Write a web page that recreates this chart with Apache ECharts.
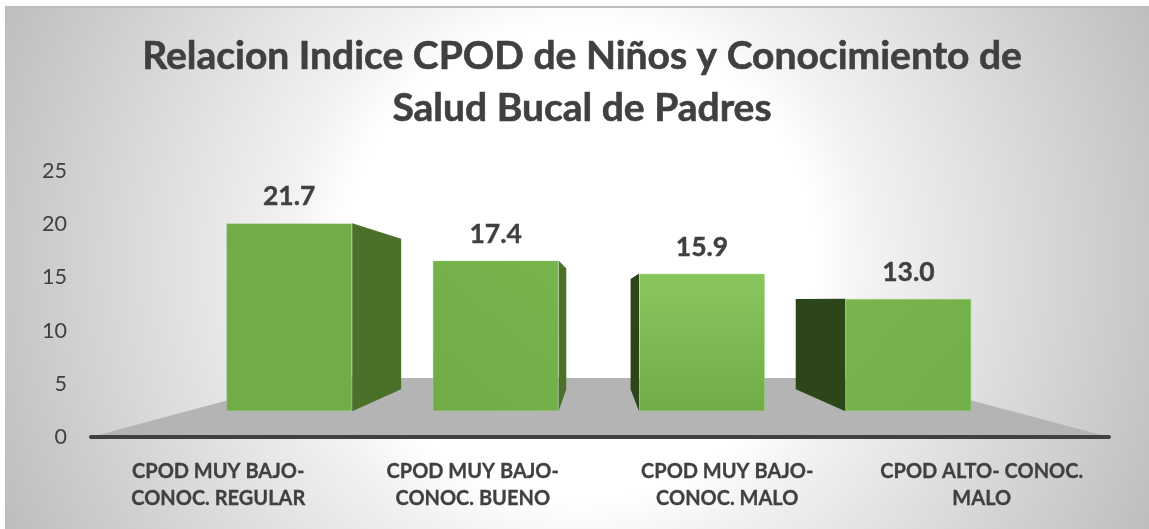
<!DOCTYPE html>
<html><head><meta charset="utf-8">
<style>html,body{margin:0;padding:0;background:#fff}#c{width:1149px;height:529px}</style>
<script src="https://cdn.jsdelivr.net/npm/echarts@6/dist/echarts.min.js"></script>
</head><body><div id="c"></div>
<script>
const titleLines = ['Relacion Indice CPOD de Niños y Conocimiento de', 'Salud Bucal de Padres'];
const categories = ['CPOD MUY BAJO-\nCONOC. REGULAR', 'CPOD MUY BAJO-\nCONOC. BUENO', 'CPOD MUY BAJO-\nCONOC. MALO', 'CPOD ALTO- CONOC.\nMALO'];
const values = [21.7, 17.4, 15.9, 13.0];
const FONT = 'Lato';
const INK = '#404040';

// perspective of the original 3D view: vanishing point, side depth and floor depth
const VP = [597, 301], SIDE_K = 0.2, FLOOR_K = 0.434;
const toward = (p, k) => [p[0] + (VP[0] - p[0]) * k, p[1] + (VP[1] - p[1]) * k];

const faceColors = [
  new echarts.graphic.LinearGradient(0, 0, 1, 1, [{offset: 0, color: '#70ad47'}, {offset: 1, color: '#70ad47'}]),
  new echarts.graphic.LinearGradient(1, 0, 0, 1, [{offset: 0, color: '#77b44c'}, {offset: 1, color: '#70ad47'}]),
  new echarts.graphic.LinearGradient(0, 0, 0, 1, [{offset: 0, color: '#8ac75f'}, {offset: 1, color: '#70ad47'}]),
  new echarts.graphic.LinearGradient(0, 0, 1, 1, [{offset: 0, color: '#78b54e'}, {offset: 1, color: '#72af49'}])
];
const sideColors = ['#4a7029', '#4a7029', '#2c4619', '#2c4619'];

const chart = echarts.init(document.getElementById('c'), null, {renderer: 'canvas'});
chart.setOption({
  animation: false,
  backgroundColor: '#ffffff',
  graphic: [
    {type: 'rect', z: -10, silent: true, x: 5, y: 6, shape: {width: 1144, height: 2}, style: {fill: '#bdbdbd'}},
    {type: 'rect', z: -11, silent: true, x: 5, y: 7,
     shape: {width: 1144, height: 522},
     style: {fill: new echarts.graphic.RadialGradient(0.502, 0.49, 1.226, [
       {offset: 0, color: '#ffffff'}, {offset: 0.37, color: '#ffffff'}, {offset: 0.46, color: '#f2f2f2'}, {offset: 1, color: '#bcbcbc'}])}}
  ],
  title: {
    text: titleLines.join('\n'), left: 577, top: 25, textAlign: 'center',
    textStyle: {fontFamily: FONT, fontSize: 39, fontWeight: 'bold', color: INK, lineHeight: 52, textBorderColor: INK, textBorderWidth: 0.6}
  },
  grid: [
    {left: 91, width: 1018, top: 171, height: 266},
    {left: 186, width: 825.6, top: 194.6, height: 216.75}
  ],
  xAxis: [
    {type: 'category', gridIndex: 0, data: categories, z: 6,
     axisLine: {lineStyle: {color: INK, width: 4, cap: 'round'}},
     axisTick: {show: false},
     axisLabel: {margin: 21, interval: 0, fontFamily: FONT, fontSize: 20, fontWeight: 'bold', color: INK, lineHeight: 27, textBorderColor: INK, textBorderWidth: 0.3}},
    {type: 'category', gridIndex: 1, data: categories, show: false}
  ],
  yAxis: [
    {type: 'value', gridIndex: 0, min: 0, max: 25, interval: 5,
     axisLine: {show: false}, axisTick: {show: false}, splitLine: {show: false},
     axisLabel: {margin: 24, padding: [2, 0, 0, 0], fontFamily: FONT, fontSize: 21.5, color: INK}},
    {type: 'value', gridIndex: 1, min: 0, max: 25, show: false}
  ],
  series: [
    {type: 'custom', xAxisIndex: 0, yAxisIndex: 0, z: 1, silent: true, data: [0],
     renderItem(params, api) {
       const cs = params.coordSys;
       const a = [cs.x, cs.y + cs.height], b = [cs.x + cs.width, cs.y + cs.height];
       return {type: 'polygon', shape: {points: [a, b, toward(b, FLOOR_K), toward(a, FLOOR_K)]}, style: {fill: '#b4b4b4'}};
     }},
    {type: 'custom', xAxisIndex: 1, yAxisIndex: 1, z: 2, silent: true,
     data: values.map((v, i) => [i, v]),
     renderItem(params, api) {
       const i = api.value(0), top = api.coord([i, api.value(1)]), base = api.coord([i, 0]);
       const half = 63, edge = top[0] < VP[0] ? half : -half;
       const x = top[0] + edge;
       const t = [x, top[1]], o = [x, base[1]];
       return {type: 'polygon', shape: {points: [t, toward(t, SIDE_K), toward(o, SIDE_K), o]}, style: {fill: sideColors[params.dataIndex]}};
     }},
    {type: 'bar', xAxisIndex: 1, yAxisIndex: 1, z: 3, barWidth: 126, silent: true,
     data: values.map((v, i) => ({value: v, itemStyle: {color: faceColors[i], borderColor: 'rgba(170,215,140,0.35)', borderWidth: 1}})),
     label: {show: true, position: 'top', distance: 13, fontFamily: FONT, fontSize: 26.5, fontWeight: 'bold', color: INK, textBorderColor: INK, textBorderWidth: 0.4,
       formatter: p => p.value.toFixed(1)}}
  ]
});
</script></body></html>
